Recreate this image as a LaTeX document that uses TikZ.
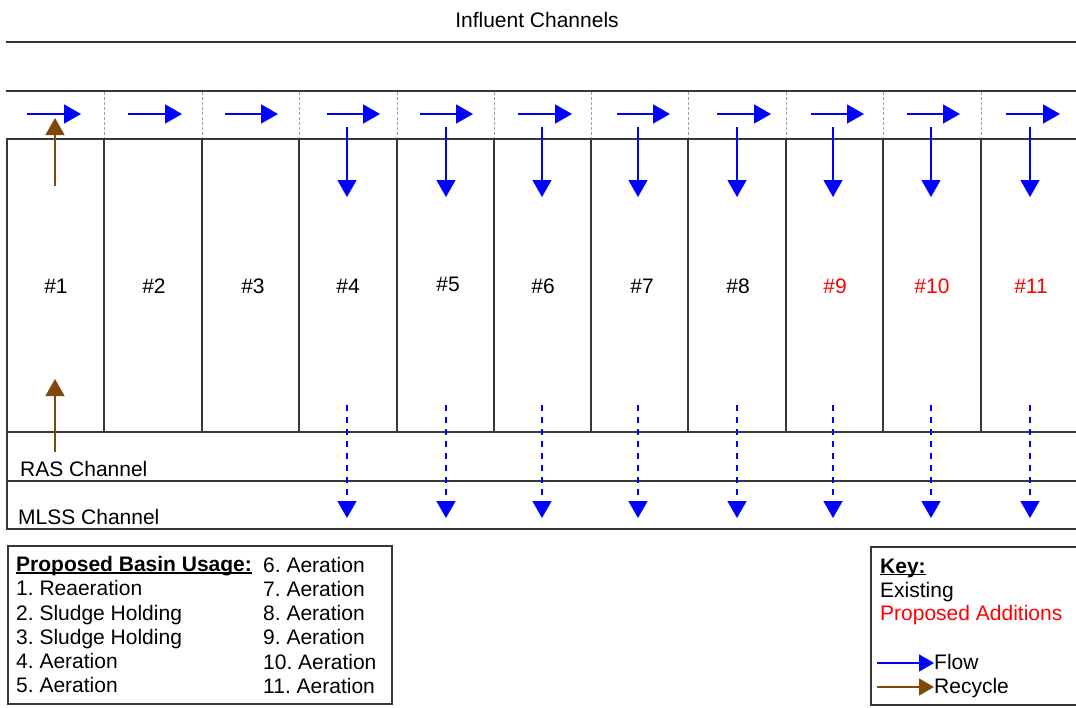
\documentclass[tikz,border=0pt]{standalone}
\usepackage{fontspec}
\setmainfont{Liberation Sans}
\usetikzlibrary{arrows.meta}
\definecolor{flowblue}{RGB}{0,0,255}
\definecolor{recbrown}{RGB}{128,72,10}
\definecolor{propred}{RGB}{255,0,0}
\definecolor{wallgray}{RGB}{55,55,55}
\newcommand\myul[1]{\setbox0\hbox{#1}\rlap{\rule[-2.2pt]{\wd0}{1.3pt}}\box0}
\frenchspacing
\begin{document}
\frenchspacing
\begin{tikzpicture}[x=1pt,y=-1pt,
  wallline/.style={draw=wallgray,line width=1.4pt},
  sepline/.style={draw=gray!75,line width=1pt,dash pattern=on 2.5pt off 2.5pt},
  flowarrow/.style={draw=flowblue,line width=1.3pt,-{Triangle[length=17pt,width=19pt]}},
  dflowarrow/.style={flowarrow,dash pattern=on 6pt off 6pt},
  recarrow/.style={draw=recbrown,line width=1.3pt,-{Triangle[length=17pt,width=19pt]}},
  keyflow/.style={draw=flowblue,line width=1.3pt,-{Triangle[length=15pt,width=17pt]}},
  keyrec/.style={draw=recbrown,line width=1.3pt,-{Triangle[length=15pt,width=17pt]}},
  txt/.style={font=\fontsize{21}{24.5}\selectfont,inner sep=0pt},
  txtl/.style={txt,anchor=base west},
  basinlbl/.style={txt,anchor=base},
  legbox/.style={draw=wallgray,line width=1.4pt}
]
\useasboundingbox (0,0) rectangle (1076,707);
\fill[white] (0,0) rectangle (1076,707);

% title
\node[txt,anchor=base] (title) at (537,27) {Influent Channels};

% influent channel lines
\draw[wallline] (6,42) -- (1080,42);
\draw[wallline] (6,91) -- (1080,91);

% basin / channel outline
\draw[wallline] (1080,139) -- (7,139) -- (7,529) -- (1080,529);
\draw[wallline] (7,432) -- (1080,432);
\draw[wallline] (7,481) -- (1080,481);

% basin walls and dotted separators
\foreach \x in {104,202,299,397,494,591,688,786,883,981}{
  \draw[wallline] (\x,139) -- (\x,432);
  \draw[sepline] (\x,92) -- (\x,138);
}

% basin labels
\foreach \i/\x/\y in {1/56/293,2/154/293,3/253/293,4/348/293,5/448/291,6/543/293,7/642/293,8/738/293}{
  \node[basinlbl] (b\i) at (\x,\y) {\#\i};
}
\foreach \i/\x in {9/835,10/932,11/1031}{
  \node[basinlbl,text=propred] (b\i) at (\x,293) {\#\i};
}

% horizontal influent flow arrows
\foreach \i/\a/\b in {1/27/81,2/128/182,3/225/278,4/327/380,5/420/473,6/518/572,7/617/670,8/717/771,9/811/864,10/907/960,11/1006/1060}{
  \coordinate (hs\i) at (\a,114);
  \coordinate (he\i) at (\b,114);
  \draw[flowarrow] (hs\i) -- (he\i);
}

% vertical flow arrows into basins and dashed arrows to MLSS
\foreach \i/\x in {4/347,5/446,6/542,7/638,8/737,9/833,10/931,11/1030}{
  \coordinate (vs\i) at (\x,127);
  \coordinate (ve\i) at (\x,197);
  \draw[flowarrow] (vs\i) -- (ve\i);
  \coordinate (ds\i) at (\x,405);
  \coordinate (de\i) at (\x,518);
  \draw[dflowarrow] (ds\i) -- (de\i);
}

% recycle arrows in basin 1
\coordinate (r1s) at (55,186);
\coordinate (r1e) at (55,118);
\draw[recarrow] (r1s) -- (r1e);
\coordinate (r2s) at (55,452);
\coordinate (r2e) at (55,379);
\draw[recarrow] (r2s) -- (r2e);

% channel labels
\node[txtl] (ras) at (20,476) {RAS Channel};
\node[txtl] (mlss) at (18,524) {MLSS Channel};

% basin usage legend
\draw[legbox] (8,546) rectangle (392,704);
\node[txtl,font=\fontsize{21}{24.5}\selectfont\bfseries] (usehead) at (16,571.5) {\myul{Proposed Basin Usage:}};
\node[txtl] (u1) at (16,595.5) {1. Reaeration};
\node[txtl] (u2) at (16,620) {2. Sludge Holding};
\node[txtl] (u3) at (16,644) {3. Sludge Holding};
\node[txtl] (u4) at (16,668.5) {4. Aeration};
\node[txtl] (u5) at (16,692.5) {5. Aeration};
\node[txtl] (u6) at (263,572) {6. Aeration};
\node[txtl] (u7) at (263,596) {7. Aeration};
\node[txtl] (u8) at (263,620.5) {8. Aeration};
\node[txtl] (u9) at (263,644.5) {9. Aeration};
\node[txtl] (u10) at (263,669) {10. Aeration};
\node[txtl] (u11) at (263,693) {11. Aeration};

% key
\draw[legbox] (871,547) rectangle (1082,705);
\node[txtl,font=\fontsize{21}{24.5}\selectfont\bfseries] (keyhead) at (880,573) {\myul{Key:}};
\node[txtl] (kexist) at (880,597) {Existing};
\node[txtl,text=propred] (kprop) at (880,620.5) {Proposed Additions};
\node[txtl] (kflow) at (934,669) {Flow};
\node[txtl] (krec) at (934,693) {Recycle};
\coordinate (kfs) at (877,663);
\draw[keyflow] (kfs) -- (kflow.west |- kfs);
\coordinate (krs) at (877,687);
\draw[keyrec] (krs) -- (krec.west |- krs);
\end{tikzpicture}
\end{document}
